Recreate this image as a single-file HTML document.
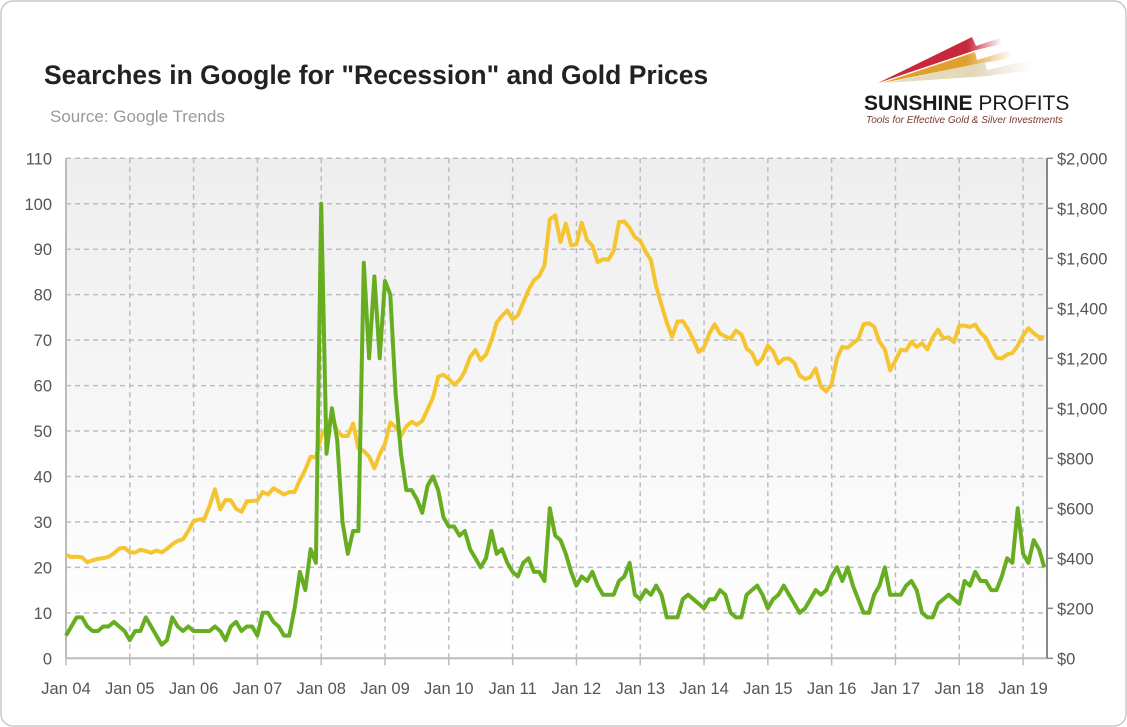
<!DOCTYPE html>
<html><head><meta charset="utf-8"><style>
html,body{margin:0;padding:0;background:#fff;}
svg{display:block;font-family:"Liberation Sans",sans-serif;}
</style></head><body>
<svg id="chart" width="1127" height="727" viewBox="0 0 1127 727" xmlns="http://www.w3.org/2000/svg">
<defs>
<linearGradient id="bg" x1="0" y1="0" x2="0" y2="1">
<stop offset="0" stop-color="#eeeeee"/><stop offset="1" stop-color="#ffffff"/>
</linearGradient>
<linearGradient id="fadeR" x1="0" y1="0" x2="1" y2="0"><stop offset="0" stop-color="#c8283a"/><stop offset="0.72" stop-color="#c8283a"/><stop offset="1" stop-color="#c8283a" stop-opacity="0"/></linearGradient>
<linearGradient id="fadeO" x1="0" y1="0" x2="1" y2="0"><stop offset="0" stop-color="#e0a030"/><stop offset="0.65" stop-color="#e0a030"/><stop offset="1" stop-color="#e0a030" stop-opacity="0"/></linearGradient>
<linearGradient id="fadeY" x1="0" y1="0" x2="1" y2="0"><stop offset="0" stop-color="#e8dfc0"/><stop offset="0.6" stop-color="#e2d8b8"/><stop offset="1" stop-color="#e2d8b8" stop-opacity="0"/></linearGradient>
</defs>
<rect x="1" y="1" width="1125" height="725" rx="12" fill="#fff" stroke="#c8c8c8" stroke-width="1.5"/>
<text x="44" y="84" font-size="26.5" font-weight="bold" fill="#222">Searches in Google for "Recession" and Gold Prices</text>
<text x="50" y="122" font-size="17" fill="#999">Source: Google Trends</text>
<g>
<polygon points="878,83 972,37 976,46 1000,38 1002,44 976,50" fill="url(#fadeR)"/>
<polygon points="882,83 975,52 977,60 1010,50 1012,58 977,64" fill="url(#fadeO)"/>
<polygon points="886,83 985,62 987,70 1030,60 1032,70 987,76" fill="url(#fadeY)"/>
<text x="864" y="110" font-size="21" fill="#1a1a1a"><tspan font-weight="bold">SUNSHINE</tspan> PROFITS</text>
<text x="866" y="123" font-size="10" fill="#7a3a2a" font-style="italic">Tools for Effective Gold &amp; Silver Investments</text>
</g>
<rect x="66" y="158" width="981" height="500" fill="url(#bg)"/>
<g id="grid"></g>
<g id="axes"></g>
<g id="series"></g>
</svg>
<script>
const searches = [5,7,9,9,7,6,6,7,7,8,7,6,
4,6,6,9,7,5,3,4,9,7,6,7,
6,6,6,6,7,6,4,7,8,6,7,7,
5,10,10,8,7,5,5,11,19,15,24,21,
100,45,55,48,30,23,28,28,87,66,84,66,
83,80,58,45,37,37,35,32,38,40,37,31,
29,29,27,28,24,22,20,22,28,23,24,21,
19,18,21,22,19,19,17,33,27,26,23,19,
16,18,17,19,16,14,14,14,17,18,21,14,
13,15,14,16,14,9,9,9,13,14,13,12,
11,13,13,15,14,10,9,9,14,15,16,14,
11,13,14,16,14,12,10,11,13,15,14,15,
18,20,17,20,16,13,10,10,14,16,20,14,
14,14,16,17,15,10,9,9,12,13,14,13,
12,17,16,19,17,17,15,15,18,22,21,33,
23,21,26,24,20];
const goldPrice = [414,405,406,404,384,392,398,400,406,420,439,442,
424,423,434,429,422,431,424,438,456,470,476,510,
549,555,557,610,676,596,633,632,598,586,628,629,
631,665,655,680,668,655,665,665,713,754,806,804,
889,923,968,909,889,889,939,839,829,807,760,816,
858,943,925,890,928,946,934,949,996,1043,1127,1134,
1118,1095,1113,1148,1205,1233,1193,1215,1271,1343,1370,1391,
1356,1372,1424,1474,1512,1529,1572,1756,1772,1665,1739,1652,
1656,1742,1673,1650,1585,1596,1594,1630,1745,1747,1722,1684,
1671,1627,1593,1487,1414,1343,1286,1347,1349,1316,1275,1225,
1244,1300,1336,1299,1288,1279,1311,1296,1239,1222,1176,1201,
1251,1227,1179,1198,1199,1181,1131,1117,1125,1159,1086,1068,
1097,1200,1246,1242,1260,1276,1337,1341,1326,1266,1236,1152,
1192,1234,1231,1266,1246,1260,1236,1283,1315,1280,1284,1265,
1331,1331,1325,1335,1303,1282,1238,1202,1199,1215,1221,1250,
1291,1320,1300,1285,1284];
const leftTicks = [0,10,20,30,40,50,60,70,80,90,100,110];
const rightTicks = [0,200,400,600,800,1000,1200,1400,1600,1800,2000];
const xLabels = ["Jan 04","Jan 05","Jan 06","Jan 07","Jan 08","Jan 09","Jan 10","Jan 11","Jan 12","Jan 13","Jan 14","Jan 15","Jan 16","Jan 17","Jan 18","Jan 19"];

const NS="http://www.w3.org/2000/svg";
const L=66,R=1047,T=158.3,B=658.3,MONTH=5.317;
const xm=i=>L+i*MONTH;
const yl=v=>B-(v/110)*(B-T);
const yr=v=>B-(v/2000)*(B-T);
function mk(tag,attrs,parent){const e=document.createElementNS(NS,tag);for(const k in attrs)e.setAttribute(k,attrs[k]);parent.appendChild(e);return e;}
const grid=document.getElementById('grid'),axes=document.getElementById('axes'),series=document.getElementById('series');
leftTicks.forEach(v=>{
  if(v>0){const g=mk('line',{x1:L,x2:R,y1:yl(v),y2:yl(v),stroke:'#bdbdbd','stroke-width':1.5,'stroke-dasharray':'5,4'},grid);
  
  }
  const t=mk('text',{x:52,y:yl(v)+6,'text-anchor':'end','font-size':16.5,fill:'#555'},axes);t.textContent=v;
  
  
});
rightTicks.forEach(v=>{
  const tk=mk('line',{x1:R,x2:R+6,y1:yr(v),y2:yr(v),stroke:'#888','stroke-width':1.5},axes);
  
  
  const t=mk('text',{x:1057,y:yr(v)+6,'font-size':16.5,fill:'#555'},axes);t.textContent='$'+v.toLocaleString('en-US');
  
  
});
xLabels.forEach((s,i)=>{
  const x=xm(i*12);
  if(i>0){const g=mk('line',{x1:x,x2:x,y1:T,y2:B,stroke:'#bdbdbd','stroke-width':1.5,'stroke-dasharray':'5,4'},grid);
  
  }
  const tk=mk('line',{x1:x,x2:x,y1:B,y2:B+7,stroke:'#bbb','stroke-width':1.5},axes);
  
  
  const t=mk('text',{x:x,y:694,'text-anchor':'middle','font-size':16.5,fill:'#555'},axes);t.textContent=s;
  
  
});
const la=mk('line',{x1:L,x2:L,y1:T,y2:B,stroke:'#bbb','stroke-width':2},axes);


const ba=mk('line',{x1:L,x2:R,y1:B,y2:B,stroke:'#bbb','stroke-width':2},axes);


const ra=mk('line',{x1:R,x2:R,y1:T,y2:B,stroke:'#888','stroke-width':2},axes);


const gp=mk('path',{d:goldPrice.map((v,i)=>(i?'L':'M')+xm(i).toFixed(1)+','+yr(v).toFixed(1)).join(''),fill:'none',stroke:'#f5c531','stroke-width':4,'stroke-linejoin':'round'},series);


const sp=mk('path',{d:searches.map((v,i)=>(i?'L':'M')+xm(i).toFixed(1)+','+yl(v).toFixed(1)).join(''),fill:'none',stroke:'#66ad22','stroke-width':4,'stroke-linejoin':'round'},series);


</script>
</body></html>
